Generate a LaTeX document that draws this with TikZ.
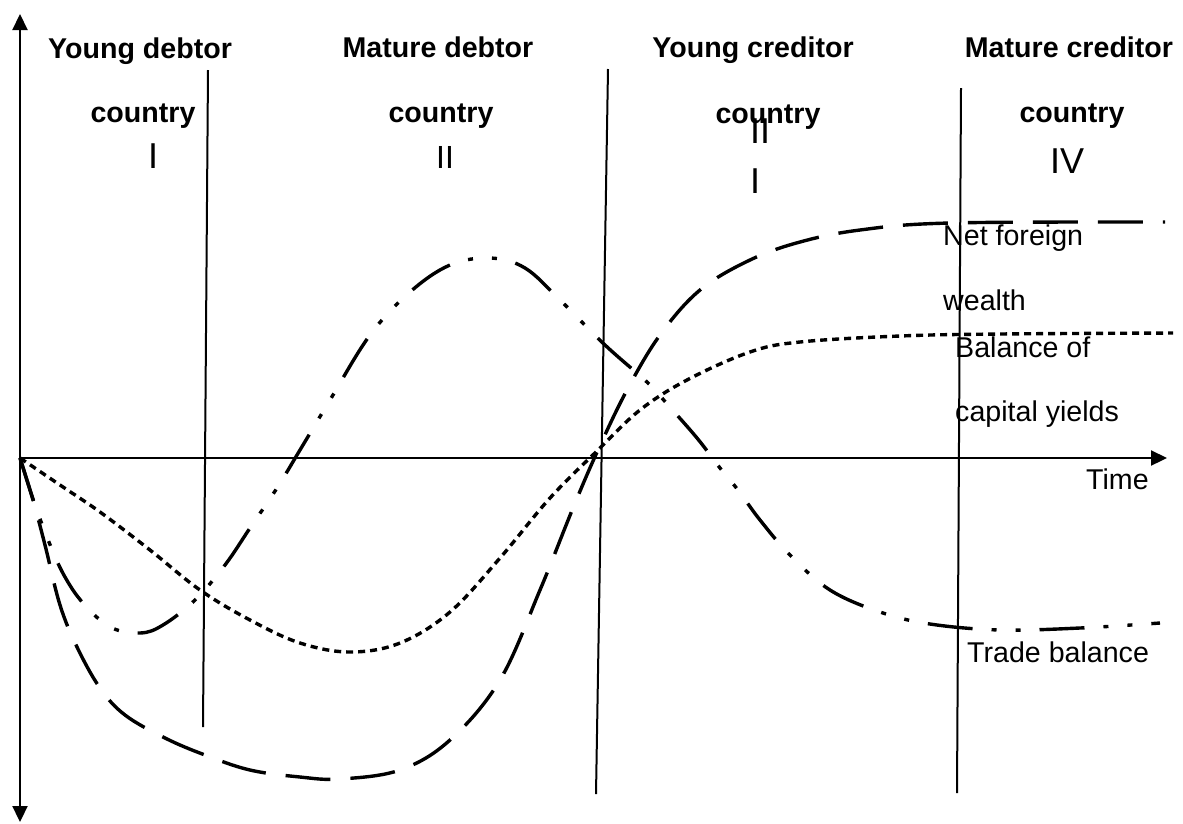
\documentclass[tikz,border=0pt]{standalone}
\usepackage{fontspec}
\setmainfont{Liberation Sans}
\usetikzlibrary{arrows.meta}
\begin{document}
\begin{tikzpicture}[x=1pt,y=-1pt,
  hdr/.style={font=\fontsize{28.6}{34}\selectfont\bfseries, anchor=base, inner sep=0pt},
  lbl/.style={font=\fontsize{28.6}{34}\selectfont, anchor=base west, inner sep=0pt},
  num/.style={font=\fontsize{36}{40}\selectfont, anchor=base, inner sep=0pt},
  axisline/.style={line width=2.2pt},
  divider/.style={line width=2pt},
  nfw/.style={line width=3.4pt, dash pattern=on 45pt off 20pt},
  cyl/.style={line width=3.4pt, dash pattern=on 7pt off 5pt},
  tbl/.style={line width=3.4pt, dash pattern=on 45pt off 19pt on 5pt off 19pt on 5pt off 19pt},
  tip/.tip={Triangle[length=16pt,width=15pt]}]
\useasboundingbox (0,0) rectangle (1183,823);
% axes
\coordinate (O) at (20,458);
\coordinate (ytop) at (20,14);
\coordinate (ybot) at (20,822);
\coordinate (xend) at (1167,458);
\draw[axisline,-tip] (O) -- (xend);
\draw[axisline,tip-tip] (ybot) -- (ytop);
% dividers
\coordinate (d1a) at (208,70);  \coordinate (d1b) at (203,727);
\coordinate (d2a) at (608,69);  \coordinate (d2b) at (596,794);
\coordinate (d3a) at (961,88);  \coordinate (d3b) at (957,793);
\draw[divider] (d1a) -- (d1b);
\draw[divider] (d2a) -- (d2b);
\draw[divider] (d3a) -- (d3b);
% headers
\node[hdr] (h1) at (140,58) {Young debtor};
\node[hdr] (c1) at (143,122) {country};
\node[num] (n1) at (153,168) {I};
\node[hdr] (h2) at (438,57) {Mature debtor};
\node[hdr] (c2) at (441,122) {country};
\node[num,font=\fontsize{32}{36}\selectfont] (n2) at (445,168) {II};
\node[hdr] (h3) at (753,57) {Young creditor};
\node[hdr] (c3) at (768,123) {country};
\node[num] (n3a) at (760,143) {II};
\node[num] (n3b) at (755,193) {I};
\node[hdr] (h4) at (1069,57) {Mature creditor};
\node[hdr] (c4) at (1072,122) {country};
\node[num] (n4) at (1067,173) {IV};
% curves
\draw[nfw] plot[smooth,tension=0.6] coordinates {(O) (33,500) (45,545) (60,605) (77,647) (100,688) (125,715) (165,738) (205,755) (250,770) (300,777) (340,779) (400,770) (450,740) (500,680) (540,590) (573,508) (598,450) (627,390) (660,335) (700,290) (750,260) (800,242) (860,230) (950,223) (1165,222)};
\draw[cyl] plot[smooth,tension=0.6] coordinates {(O) (60,485) (100,512) (150,550) (200,590) (250,620) (300,643) (350,652) (400,643) (450,612) (500,558) (550,498) (598,450) (640,410) (687,380) (750,352) (800,342) (900,336) (1000,334) (1173,333)};
\draw[tbl] plot[smooth,tension=0.6] coordinates {(O) (35,505) (51,547) (65,577) (83,603) (110,627) (140,633) (163,625) (195,600) (225,565) (250,528) (277,488) (300,450) (330,400) (370,335) (410,292) (450,265) (490,258) (525,268) (560,300) (605,345) (648,383) (668,405) (697,438) (720,468) (738,490) (760,520) (790,555) (830,590) (880,612) (930,624) (1000,630) (1080,628) (1160,623)};
% labels
\node[lbl] (l1) at (943,245) {Net foreign};
\node[lbl] (l2) at (943,310) {wealth};
\node[lbl] (l3) at (955,357) {Balance of};
\node[lbl] (l4) at (955,421) {capital yields};
\node[lbl] (l5) at (1086,489) {Time};
\node[lbl] (l6) at (967,662) {Trade balance};
\end{tikzpicture}
\end{document}
